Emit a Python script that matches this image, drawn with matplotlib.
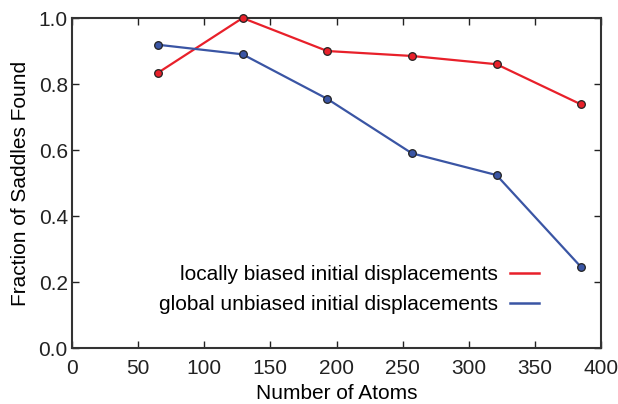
import matplotlib
matplotlib.use("Agg")
import matplotlib.pyplot as plt

plt.rcParams['font.family'] = ['Liberation Sans', 'DejaVu Sans']

atoms = [65, 129, 193, 257, 321, 385]
local_biased = [0.834, 1.0, 0.90, 0.885, 0.86, 0.738]
global_unbiased = [0.919, 0.89, 0.755, 0.59, 0.524, 0.245]
labels = ["locally biased initial displacements", "global unbiased initial displacements"]

red = "#e8202a"
blue = "#3a55a4"

fig = plt.figure(figsize=(6.18, 4.04), dpi=100)
ax = fig.add_axes([0.1165, 0.1386, 0.856, 0.8168])

for y, c, lab in [(local_biased, red, labels[0]), (global_unbiased, blue, labels[1])]:
    ax.plot(atoms, y, color=c, lw=1.6, zorder=2)
    ax.plot(atoms, y, ls="none", marker="o", ms=5.5, mfc=c, mec="#222222", mew=0.9,
            zorder=3, clip_on=False)
    ax.plot([], [], color=c, lw=1.8, label=lab)

ax.set_xlim(0, 400)
ax.set_ylim(0, 1.0)
ax.set_xticks(range(0, 401, 50))
ax.set_yticks([0.0, 0.2, 0.4, 0.6, 0.8, 1.0])
ax.set_yticklabels(["0.0", "0.2", "0.4", "0.6", "0.8", "1.0"])
ax.tick_params(direction="in", length=5, width=1, top=True, right=True,
               labelsize=15, colors="#222222")
ax.tick_params(axis="x", pad=8)
ax.tick_params(axis="y", pad=3)
for s in ax.spines.values():
    s.set_linewidth(1.5)
    s.set_color("#333333")
ax.set_xlabel("Number of Atoms", fontsize=15, labelpad=4.5)
ax.set_ylabel("Fraction of Saddles Found", fontsize=15, labelpad=6)

leg = ax.legend(loc="lower right", bbox_to_anchor=(0.919, 0.045), frameon=False,
                markerfirst=False, fontsize=15, handlelength=1.4,
                handletextpad=0.6, labelspacing=0.55)

fig.savefig("out.png", dpi=100)
